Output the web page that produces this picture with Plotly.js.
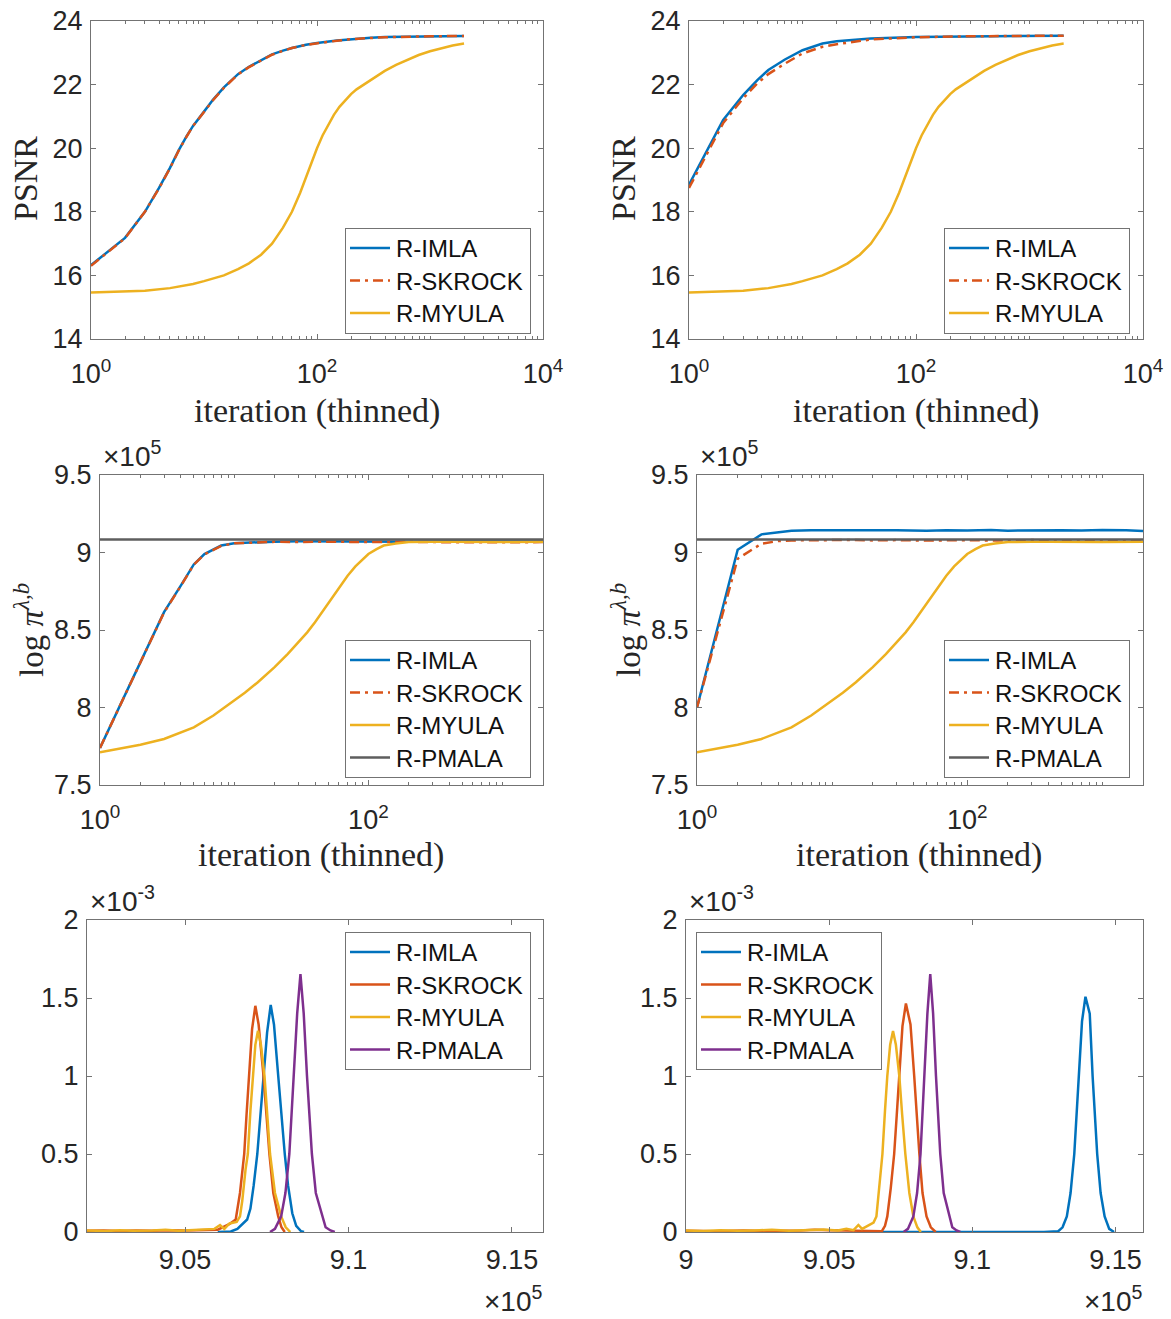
<!DOCTYPE html>
<html><head><meta charset="utf-8">
<script src="https://cdn.plot.ly/plotly-3.0.1.min.js"></script>
<style>html,body{margin:0;padding:0;background:#fff}</style>
</head><body><div id="chart" style="width:1171px;height:1319px"></div>
<script>
// ---------- Row 1: PSNR vs iteration ----------
const iterP1 = [1,2,3,4,5,6,7,8,10,12,15,20,25,30,40,50,60,80,100,150,200,300,400,1000,2000];
const psnrImlaL   = [16.32,17.18,18.0,18.75,19.38,19.95,20.37,20.7,21.15,21.52,21.91,22.33,22.56,22.72,22.95,23.07,23.15,23.25,23.31,23.39,23.43,23.47,23.5,23.52,23.53];
const psnrSkrockL = [16.3,17.17,18.0,18.74,19.37,19.94,20.36,20.7,21.14,21.51,21.9,22.32,22.55,22.71,22.94,23.06,23.15,23.25,23.3,23.38,23.43,23.47,23.49,23.52,23.53];
const iterMy = [1,2,3,5,8,10,12,15,20,25,32,40,50,60,71,79,89,100,112,126,141,158,178,200,224,260,316,398,501,631,794,1000,1259,1585,2000];
const psnrMyula = [15.46,15.49,15.52,15.6,15.73,15.82,15.9,16.0,16.2,16.38,16.65,17.0,17.5,18.0,18.6,19.05,19.5,20.0,20.4,20.75,21.05,21.3,21.52,21.7,21.85,22.0,22.2,22.43,22.62,22.78,22.93,23.05,23.15,23.23,23.29];
const iterP2 = [1,2,3,4,5,7,10,15,20,40,100,300,2000];
const psnrImlaR   = [18.85,20.89,21.67,22.14,22.46,22.79,23.08,23.29,23.36,23.45,23.5,23.52,23.54];
const psnrSkrockR = [18.75,20.79,21.57,22.04,22.33,22.66,22.98,23.19,23.27,23.42,23.49,23.52,23.54];

// ---------- Row 2: log pi vs iteration ----------
const iterP3 = [1,2,3,4,5,6,7,8,10,15,20,30,50,100,200,400,700,1000,1500,2000];
const logpiImlaL   = [773900,829200,861500,878600,892300,899000,902000,904500,906000,906700,907000,907200,907100,907200,907000,907200,907100,907200,907000,907100];
const logpiSkrockL = [773900,829000,861300,878400,892200,898800,901800,904300,905900,906600,906900,906800,907000,906700,906900,906600,906800,906700,906900,906700];
const iterMyL = [1,2,3,5,7,10,12,15,20,25,30,35,40,50,60,70,80,90,100,115,130,160,200,300,400,1000,2000];
const logpiMyula = [771100,776000,779700,787200,794800,804500,809500,816300,826000,834500,842000,848500,855000,867000,877000,885000,891000,895500,899000,902200,904500,905800,906700,906900,907000,906800,906900];
const iterPmala = [1,2000];
const logpiPmala = [908450,908450];
const iterP4 = [1,2,3,4,5,7,10,15,20,30,50,70,100,150,200,300,500,700,1000,1500,2000];
const logpiImlaR   = [800000,901800,911700,913200,914000,914300,914400,914200,914500,914300,914100,914400,914200,914500,914100,914300,914400,914200,914500,914300,913800];
const logpiSkrockR = [800000,896000,905700,907400,907800,908000,907900,908100,907800,908000,907700,907900,908000,907700,907900,908000,907800,908000,907700,907900,907800];

// ---------- Row 3: densities ----------
const dImlaLx = [906000,906400,906600,906800,906900,907000,907100,907210,907310,907400,907510,907620,907720,907850,907950,908050,908150,908280,908400,908550,908640];
const dImlaLy = [0,0.000003,0.00002,0.00006,0.00008,0.00015,0.0003,0.0005,0.00075,0.001,0.00128,0.001455,0.00133,0.001,0.00072,0.0005,0.0003,0.00012,0.00004,0.000005,0];
const dSkrockLx = [902000,902500,903000,903500,904000,904500,905000,905500,906000,906350,906550,906680,906810,906880,906960,907050,907150,907250,907400,907500,907580,907700,907850,907950,908050];
const dSkrockLy = [0.000008,0.00001,0.000006,0.00001,0.000008,0.000012,0.00001,0.000012,0.000015,0.00005,0.00008,0.00025,0.0005,0.00075,0.001,0.0013,0.00145,0.00133,0.001,0.00072,0.0005,0.00025,0.0001,0.00003,0];
const dMyulaLx = [902000,902600,903000,903400,904000,904400,904800,905200,905600,905900,906070,906200,906360,906580,906680,906750,906850,906920,907000,907070,907150,907230,907320,907430,907520,907600,907750,907940,908080,908220];
const dMyulaLy = [0.00001,0.000006,0.000012,0.000008,0.00001,0.000014,0.000008,0.000012,0.000015,0.00002,0.000045,0.00002,0.000055,0.000065,0.0001,0.0002,0.0004,0.0005,0.00078,0.001,0.0012,0.00129,0.0012,0.001,0.00072,0.0005,0.00025,0.0001,0.00003,0];
const dPmalaX = [907600,907750,907940,908070,908190,908260,908340,908430,908530,908630,908730,908800,908880,909000,909190,909300,909450,909580];
const dPmalaY = [0,0.00002,0.0001,0.00025,0.0005,0.00075,0.001,0.0014,0.001653,0.0014,0.001,0.00075,0.0005,0.00025,0.0001,0.00003,0.00001,0];
const dImlaRx = [906840,910000,912000,912500,913000,913150,913300,913430,913560,913640,913720,913830,913950,914030,914100,914200,914280,914360,914480,914620,914780,914950];
const dImlaRy = [0,0,0.000003,0,0.000005,0.00003,0.0001,0.00025,0.0005,0.00075,0.001,0.00135,0.001508,0.00145,0.0014,0.001,0.00075,0.0005,0.00025,0.0001,0.00002,0];
const dSkrockRx = [900000,901000,902000,903000,904000,904500,905000,905500,906000,906500,906840,906950,907030,907150,907270,907360,907450,907560,907680,907780,907840,907970,908050,908150,908260,908400,908550,908720];
const dSkrockRy = [0.000008,0.000005,0.00001,0.000006,0.00001,0.000015,0.000012,0.00001,0.000008,0.000005,0.000005,0.00004,0.0001,0.00028,0.0005,0.00075,0.001,0.00132,0.001465,0.00138,0.00133,0.001,0.00075,0.0005,0.00025,0.0001,0.00003,0];
const dMyulaRx = [900000,900600,901200,901800,902400,903000,903600,904200,904800,905300,905600,905850,906020,906150,906350,906550,906650,906720,906860,906950,907030,907130,907230,907330,907450,907550,907660,907800,907940,908080,908200];
const dMyulaRy = [0.00001,0.000006,0.000012,0.000008,0.00001,0.000014,0.000008,0.000012,0.000016,0.00001,0.00002,0.000012,0.000045,0.00002,0.00004,0.00006,0.0001,0.00025,0.0005,0.00078,0.001,0.0012,0.001288,0.0012,0.001,0.00075,0.0005,0.00025,0.0001,0.00003,0];

// ---------- tick labels ----------
const logTickVals4 = [1,100,10000];
const logTickText4 = ['10<sup>0</sup>','10<sup>2</sup>','10<sup>4</sup>'];
const logTickVals2 = [1,100];
const logTickText2 = ['10<sup>0</sup>','10<sup>2</sup>'];
const logpiTickVals = [750000,800000,850000,900000,950000];
const logpiTickText = ['7.5','8','8.5','9','9.5'];
const densTickVals = [0,0.0005,0.001,0.0015,0.002];
const densTickText = ['0','0.5','1','1.5','2'];
const dxTickValsL = [905000,910000,915000];
const dxTickTextL = ['9.05','9.1','9.15'];
const dxTickValsR = [900000,905000,910000,915000];
const dxTickTextR = ['9','9.05','9.1','9.15'];

// ---------- styling ----------
const W = 1171, H = 1319;
const fx = p => p / W, fy = p => 1 - p / H;
const C = {imla:'#0072BD', skrock:'#D95319', myula:'#EDB120', pmala:'#7E2F8E', grey:'#5e5e5e'};
const LW = 2.5;
const DASHDOT = '10px,5px,3px,5px';
const axColor = '#737373';
const tickFont = {family:'Liberation Sans, Arial, sans-serif', size:27, color:'#262626'};

function minorLog(maxDec, maxVal){
  const v = [];
  for (let d = 0; d <= maxDec; d++) for (let k = 1; k <= 9; k++) {
    const t = k * Math.pow(10, d);
    if (t > maxVal) continue;
    if (k === 1 && d % 2 === 0) continue;
    v.push(t);
  }
  return v;
}
function ax(extra){
  return Object.assign({showline:true, linecolor:axColor, linewidth:1, mirror:'allticks',
    ticks:'inside', ticklen:5, tickwidth:1, tickcolor:axColor, showgrid:false, zeroline:false,
    tickfont:tickFont, tickmode:'array', fixedrange:true}, extra);
}
const panels = {
  1:{l:91,r:543,t:21,b:339}, 2:{l:689,r:1143,t:21,b:339},
  3:{l:100,r:543,t:475,b:785}, 4:{l:697,r:1143,t:475,b:785},
  5:{l:87,r:543,t:920,b:1232}, 6:{l:686,r:1143,t:920,b:1232}
};
const layout = {width:W, height:H, margin:{l:0,r:0,t:0,b:0}, paper_bgcolor:'#fff', plot_bgcolor:'#fff',
  showlegend:true, annotations:[]};
for (let i = 1; i <= 6; i++) {
  const p = panels[i];
  const xs = 'xaxis' + (i === 1 ? '' : i), ys = 'yaxis' + (i === 1 ? '' : i);
  layout[xs] = {domain:[fx(p.l), fx(p.r)], anchor:'y' + (i === 1 ? '' : i)};
  layout[ys] = {domain:[fy(p.b), fy(p.t)], anchor:'x' + (i === 1 ? '' : i)};
}
function merge(k, o){ layout[k] = Object.assign(layout[k], o); }
const minor4 = {tickmode:'array', tickvals:minorLog(3, 9000), ticks:'inside', ticklen:3, tickcolor:axColor};
const minor2 = {tickmode:'array', tickvals:minorLog(3, 2000), ticks:'inside', ticklen:3, tickcolor:axColor};
merge('xaxis', ax({type:'log', range:[0,4], tickvals:logTickVals4, ticktext:logTickText4, minor:minor4, ticklabelstandoff:11}));
merge('xaxis2', ax({type:'log', range:[0,4], tickvals:logTickVals4, ticktext:logTickText4, minor:minor4, ticklabelstandoff:11}));
merge('yaxis', ax({range:[14,24], tickvals:[14,16,18,20,22,24], ticktext:['14','16','18','20','22','24'], ticklabelstandoff:2}));
merge('yaxis2', ax({range:[14,24], tickvals:[14,16,18,20,22,24], ticktext:['14','16','18','20','22','24'], ticklabelstandoff:2}));
merge('xaxis3', ax({type:'log', range:[0,Math.log10(2000)], tickvals:logTickVals2, ticktext:logTickText2, minor:minor2, ticklabelstandoff:11}));
merge('xaxis4', ax({type:'log', range:[0,Math.log10(2000)], tickvals:logTickVals2, ticktext:logTickText2, minor:minor2, ticklabelstandoff:11}));
merge('yaxis3', ax({range:[750000,950000], tickvals:logpiTickVals, ticktext:logpiTickText, ticklabelstandoff:2}));
merge('yaxis4', ax({range:[750000,950000], tickvals:logpiTickVals, ticktext:logpiTickText, ticklabelstandoff:2}));
merge('xaxis5', ax({range:[902000,915950], tickvals:dxTickValsL, ticktext:dxTickTextL, ticklabelstandoff:4}));
merge('xaxis6', ax({range:[900000,915960], tickvals:dxTickValsR, ticktext:dxTickTextR, ticklabelstandoff:4}));
merge('yaxis5', ax({range:[0,0.002], tickvals:densTickVals, ticktext:densTickText, ticklabelstandoff:2}));
merge('yaxis6', ax({range:[0,0.002], tickvals:densTickVals, ticktext:densTickText, ticklabelstandoff:2}));

// legends
const legendBase = {xanchor:'left', yanchor:'top', bgcolor:'#fff', bordercolor:axColor, borderwidth:1,
  font:{family:'Liberation Sans, Arial, sans-serif', size:24, color:'#111'}, tracegroupgap:0, itemclick:false};
const legPos = {legend:[345,228], legend2:[944,228], legend3:[345,640], legend4:[944,640], legend5:[345,932], legend6:[696,932]};
for (const k in legPos) layout[k] = Object.assign({}, legendBase, {x:fx(legPos[k][0]), y:fy(legPos[k][1])});

// annotations: axis titles and exponent labels
const serif = {family:'Liberation Serif, Times New Roman, serif', size:34, color:'#262626'};
const serifY = {family:'Liberation Serif, Times New Roman, serif', size:33, color:'#262626'};
const sans = {family:'Liberation Sans, Arial, sans-serif', size:28, color:'#262626'};
function ann(text, x, y, font, extra){
  layout.annotations.push(Object.assign({text, x:fx(x), y:fy(y), xref:'paper', yref:'paper', showarrow:false,
    font, xanchor:'center', yanchor:'middle'}, extra || {}));
}
ann('iteration (thinned)', 317, 411, serif);
ann('iteration (thinned)', 916, 411, serif);
ann('PSNR', 26, 179, serif, {textangle:-90});
ann('PSNR', 624, 179, serif, {textangle:-90});
ann('iteration (thinned)', 321, 855, serif);
ann('iteration (thinned)', 919, 855, serif);
ann('log <i>π</i><sup><i>λ,b</i></sup>', 29, 630, serifY, {textangle:-90});
ann('log <i>π</i><sup><i>λ,b</i></sup>', 626, 630, serifY, {textangle:-90});
ann('×10<sup>5</sup>', 101, 474, sans, {xanchor:'left', yanchor:'bottom'});
ann('×10<sup>5</sup>', 698, 474, sans, {xanchor:'left', yanchor:'bottom'});
ann('×10<sup>-3</sup>', 88, 919, sans, {xanchor:'left', yanchor:'bottom'});
ann('×10<sup>-3</sup>', 687, 919, sans, {xanchor:'left', yanchor:'bottom'});
ann('×10<sup>5</sup>', 545, 1319, sans, {xanchor:'right', yanchor:'bottom'});
ann('×10<sup>5</sup>', 1145, 1319, sans, {xanchor:'right', yanchor:'bottom'});

function tr(x, y, name, color, axn, leg, dash){
  return {type:'scatter', mode:'lines', x, y, name, legend:leg,
    xaxis:'x' + (axn === 1 ? '' : axn), yaxis:'y' + (axn === 1 ? '' : axn),
    line:{color, width:LW, dash:dash || 'solid'}, hoverinfo:'skip'};
}
const data = [
  tr(iterP1, psnrImlaL, 'R-IMLA', C.imla, 1, 'legend'),
  tr(iterP1, psnrSkrockL, 'R-SKROCK', C.skrock, 1, 'legend', DASHDOT),
  tr(iterMy, psnrMyula, 'R-MYULA', C.myula, 1, 'legend'),
  tr(iterP2, psnrImlaR, 'R-IMLA', C.imla, 2, 'legend2'),
  tr(iterP2, psnrSkrockR, 'R-SKROCK', C.skrock, 2, 'legend2', DASHDOT),
  tr(iterMy, psnrMyula, 'R-MYULA', C.myula, 2, 'legend2'),
  tr(iterP3, logpiImlaL, 'R-IMLA', C.imla, 3, 'legend3'),
  tr(iterP3, logpiSkrockL, 'R-SKROCK', C.skrock, 3, 'legend3', DASHDOT),
  tr(iterMyL, logpiMyula, 'R-MYULA', C.myula, 3, 'legend3'),
  tr(iterPmala, logpiPmala, 'R-PMALA', C.grey, 3, 'legend3'),
  tr(iterP4, logpiImlaR, 'R-IMLA', C.imla, 4, 'legend4'),
  tr(iterP4, logpiSkrockR, 'R-SKROCK', C.skrock, 4, 'legend4', DASHDOT),
  tr(iterMyL, logpiMyula, 'R-MYULA', C.myula, 4, 'legend4'),
  tr(iterPmala, logpiPmala, 'R-PMALA', C.grey, 4, 'legend4'),
  tr(dImlaLx, dImlaLy, 'R-IMLA', C.imla, 5, 'legend5'),
  tr(dSkrockLx, dSkrockLy, 'R-SKROCK', C.skrock, 5, 'legend5'),
  tr(dMyulaLx, dMyulaLy, 'R-MYULA', C.myula, 5, 'legend5'),
  tr(dPmalaX, dPmalaY, 'R-PMALA', C.pmala, 5, 'legend5'),
  tr(dImlaRx, dImlaRy, 'R-IMLA', C.imla, 6, 'legend6'),
  tr(dSkrockRx, dSkrockRy, 'R-SKROCK', C.skrock, 6, 'legend6'),
  tr(dMyulaRx, dMyulaRy, 'R-MYULA', C.myula, 6, 'legend6'),
  tr(dPmalaX, dPmalaY, 'R-PMALA', C.pmala, 6, 'legend6')
];

// MATLAB-like legend geometry: longer line samples, tighter rows
function tuneLegends(gd){
  const parseT = el => {
    const m = /translate\(\s*([-\d.e]+)[ ,]+([-\d.e]+)\s*\)/.exec(el.getAttribute('transform') || '');
    return m ? [+m[1], +m[2]] : null;
  };
  const legs = Array.from(gd.querySelectorAll('g')).filter(g => {
    const c = g.getAttribute('class') || '';
    return c.split(/\s+/).some(k => /^legend\d*$/.test(k)) && g.querySelector(':scope > rect.bg');
  });
  legs.forEach(leg => {
    try {
      const bg = leg.querySelector(':scope > rect.bg');
      const traces = Array.from(leg.querySelectorAll('g.traces'));
      if (!bg || !traces.length) return;
      const pos = traces.map(parseT);
      if (pos.some(v => !v)) return;
      const oldSp = traces.length > 1 ? pos[1][1] - pos[0][1] : 0;
      const newSp = 32.5, shift0 = -3, shiftX = 10, extraW = 12;
      traces.forEach((t, i) => {
        t.setAttribute('transform', 'translate(' + (pos[i][0] + shiftX) + ',' + (pos[0][1] + shift0 + i * newSp) + ')');
        t.querySelectorAll('path.js-line').forEach(p => p.setAttribute('d', 'M-6,0h40'));
      });
      const dh = (oldSp - newSp) * (traces.length - 1) + 6;
      bg.setAttribute('height', (+bg.getAttribute('height')) - dh);
      bg.setAttribute('width', (+bg.getAttribute('width')) + extraW);
      const sb = leg.querySelector('g.scrollbox');
      const cp = sb && sb.getAttribute('clip-path');
      const m = cp && /url\(['"]?#([^'")]+)['"]?\)/.exec(cp);
      if (m) {
        const r = document.getElementById(m[1]);
        const rect = r && (r.tagName.toLowerCase() === 'rect' ? r : r.querySelector('rect'));
        if (rect) rect.setAttribute('width', (+rect.getAttribute('width')) + extraW);
      }
    } catch (e) {}
  });
}
Plotly.newPlot('chart', data, layout, {staticPlot:true, displayModeBar:false}).then(tuneLegends);
</script></body></html>
